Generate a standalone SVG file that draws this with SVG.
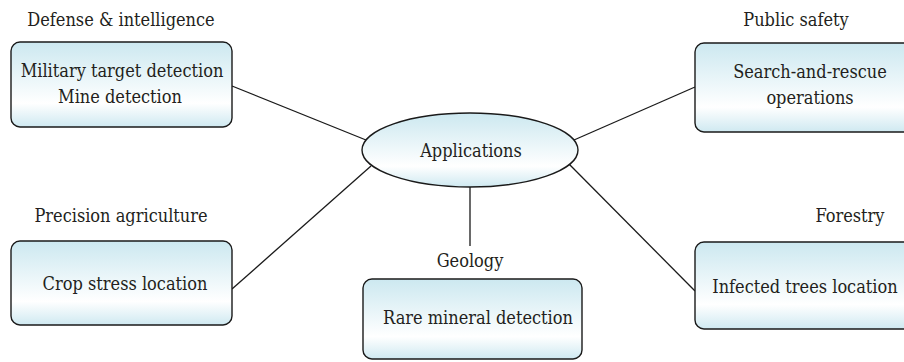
<svg xmlns="http://www.w3.org/2000/svg" width="904" height="362" viewBox="0 0 904 362">
<defs>
<linearGradient id="g" x1="0" y1="0" x2="0" y2="1">
<stop offset="0" stop-color="#cce8f0"/>
<stop offset="0.72" stop-color="#ffffff"/>
<stop offset="1" stop-color="#cfe9f1"/>
</linearGradient>
</defs>
<style>
.box{fill:url(#g);stroke:#1a1a1a;stroke-width:1.4}
text{font-family:"DejaVu Serif Condensed","DejaVu Serif",serif;font-stretch:condensed;font-size:18px;fill:#231f20;text-anchor:middle}
.c{stroke:#1a1a1a;stroke-width:1.3;fill:none}
</style>
<g id="connectors">
<line class="c" x1="232" y1="86" x2="366" y2="140"/>
<line class="c" x1="695" y1="87" x2="574" y2="140"/>
<line class="c" x1="232" y1="289" x2="371" y2="166"/>
<line class="c" x1="695" y1="291" x2="569" y2="164"/>
<line class="c" x1="470" y1="187" x2="470" y2="246"/>
</g>
<g id="applications">
<ellipse class="box" cx="470" cy="150" rx="108" ry="37"/>
<text x="471" y="157">Applications</text>
</g>
<g id="defense">
<text x="121" y="26">Defense &amp; intelligence</text>
<rect class="box" x="11" y="42" width="221" height="85" rx="9"/>
<text x="122" y="77">Military target detection</text>
<text x="120" y="103">Mine detection</text>
</g>
<g id="public-safety">
<text x="796" y="26">Public safety</text>
<rect class="box" x="695" y="43" width="230" height="89" rx="9"/>
<text x="810" y="78">Search-and-rescue</text>
<text x="810" y="104">operations</text>
</g>
<g id="agriculture">
<text x="121" y="222">Precision agriculture</text>
<rect class="box" x="11" y="241" width="221" height="84" rx="9"/>
<text x="125" y="290">Crop stress location</text>
</g>
<g id="geology">
<text x="470" y="267">Geology</text>
<rect class="box" x="363" y="279" width="219" height="80" rx="9"/>
<text x="478" y="324">Rare mineral detection</text>
</g>
<g id="forestry">
<text x="850" y="222">Forestry</text>
<rect class="box" x="695" y="242" width="230" height="87" rx="9"/>
<text x="805" y="293">Infected trees location</text>
</g>
</svg>
